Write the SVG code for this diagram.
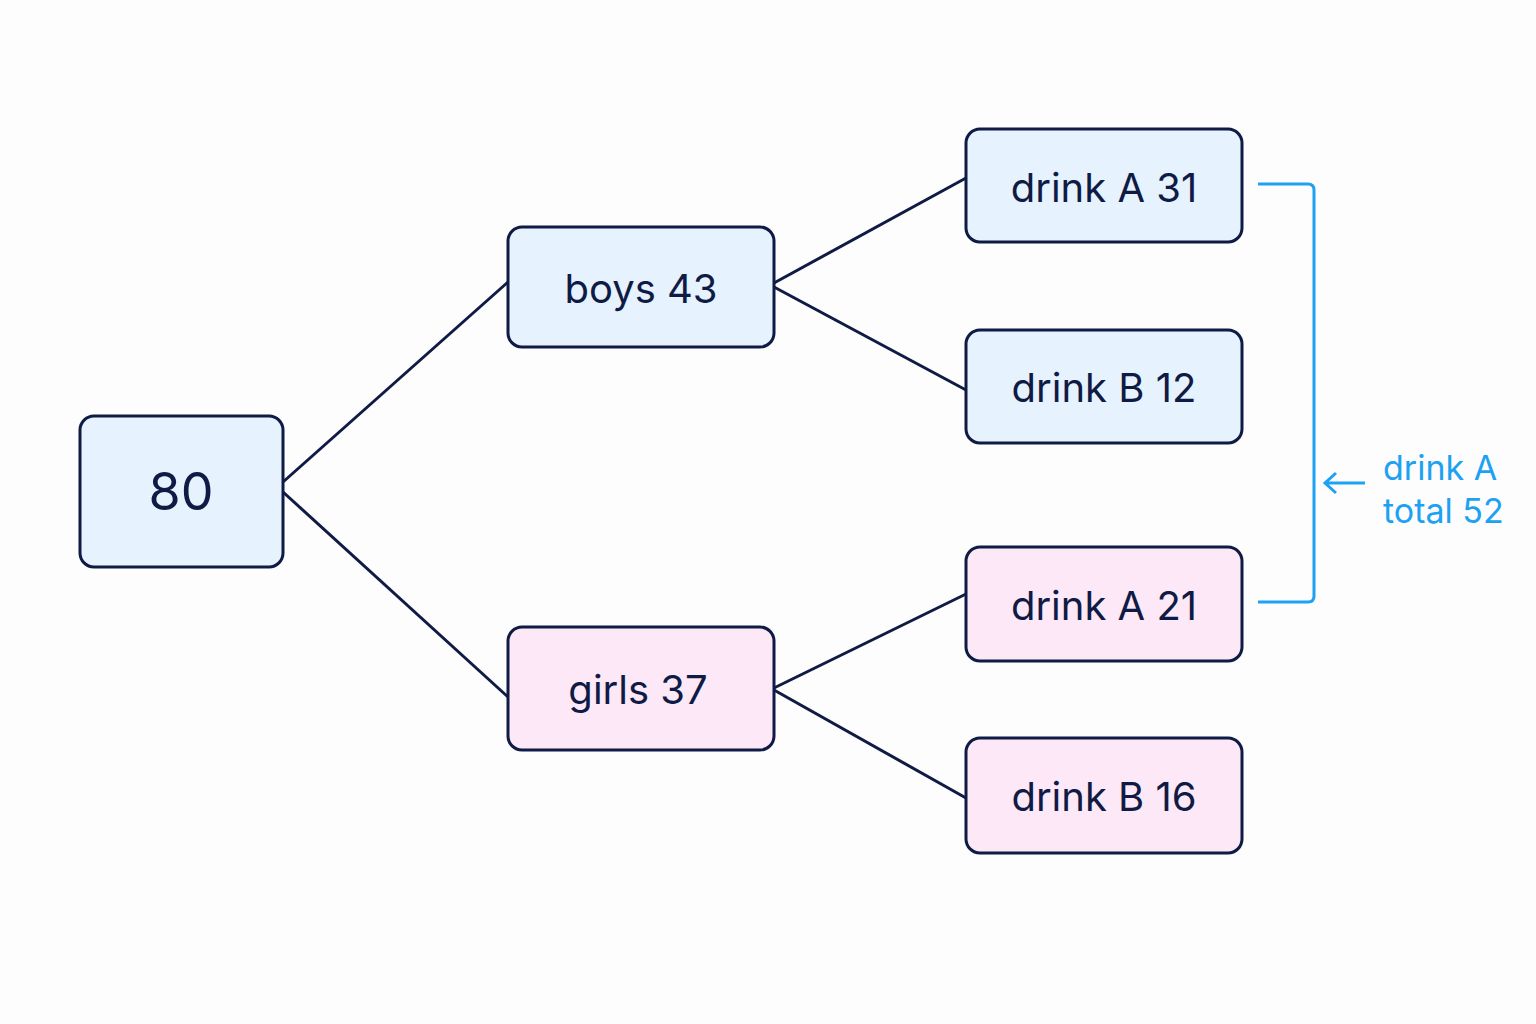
<svg xmlns="http://www.w3.org/2000/svg" width="1536" height="1024" viewBox="0 0 1536 1024">
<style>
.b{fill:#E6F2FD;stroke:#0F1B45;stroke-width:3}
.p{fill:#FCE8F7;stroke:#0F1B45;stroke-width:3}
.t{font-family:Inter,"Noto Sans",sans-serif;font-size:40px;fill:#0F1B45;text-anchor:middle}
.c{stroke:#0F1B45;stroke-width:3;fill:none}
.a{stroke:#1DA1F2;stroke-width:3;fill:none}
.l{font-family:Inter,"Noto Sans",sans-serif;font-size:34px;fill:#1DA1F2}
</style>
<rect width="1536" height="1024" fill="#FDFDFD"/>
<g id="connectors">
<line class="c" x1="283" y1="482" x2="508" y2="282"/>
<line class="c" x1="283" y1="492" x2="508" y2="697"/>
<line class="c" x1="774" y1="283" x2="966" y2="178"/>
<line class="c" x1="774" y1="287" x2="966" y2="390"/>
<line class="c" x1="774" y1="688" x2="966" y2="594"/>
<line class="c" x1="774" y1="690" x2="966" y2="798"/>
</g>
<g id="n80"><rect class="b" x="80" y="416" width="203" height="151" rx="14"/><text class="t" x="181" y="510" style="font-size:52px">80</text></g>
<g id="boys"><rect class="b" x="508" y="227" width="266" height="120" rx="14"/><text class="t" x="641" y="303">boys 43</text></g>
<g id="girls"><rect class="p" x="508" y="627" width="266" height="123" rx="14"/><text class="t" x="638" y="704">girls 37</text></g>
<g id="a31"><rect class="b" x="966" y="129" width="276" height="113" rx="14"/><text class="t" x="1104" y="202">drink A 31</text></g>
<g id="b12"><rect class="b" x="966" y="330" width="276" height="113" rx="14"/><text class="t" x="1104" y="402">drink B 12</text></g>
<g id="a21"><rect class="p" x="966" y="547" width="276" height="114" rx="14"/><text class="t" x="1104" y="620">drink A 21</text></g>
<g id="b16"><rect class="p" x="966" y="738" width="276" height="115" rx="14"/><text class="t" x="1104" y="811">drink B 16</text></g>
<g id="bracket">
<path class="a" d="M1258,184 H1308 Q1314,184 1314,190 V596 Q1314,602 1308,602 H1258"/>
<path class="a" d="M1365,483 H1325 M1336,473 L1325,483 L1336,493"/>
<text class="l" x="1383" y="480">drink A</text>
<text class="l" x="1383" y="523">total 52</text>
</g>
</svg>
